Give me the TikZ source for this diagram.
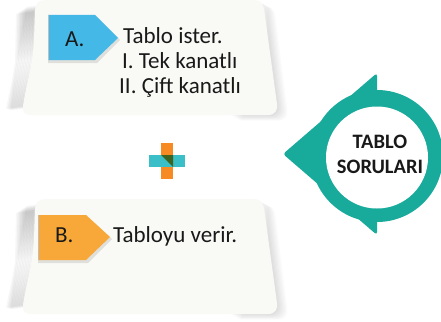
\documentclass[tikz,border=0pt]{standalone}
\usepackage{fontspec}
\setmainfont{Carlito}
\definecolor{cardfill}{HTML}{F9F9F5}
\definecolor{lblblue}{HTML}{44B9E7}
\definecolor{lblorange}{HTML}{F8A838}
\definecolor{ringteal}{HTML}{18AA9B}
\definecolor{plusteal}{HTML}{3ABEC8}
\definecolor{plusorange}{HTML}{F78A22}
\definecolor{plusgreen}{HTML}{3C6420}
\tikzset{
  cardtext/.style={inner sep=0pt, anchor=base west, font=\fontsize{23}{25}\selectfont, text=black!90},
  lbltext/.style={inner sep=0pt, anchor=base west, font=\fontsize{23}{25}\selectfont, text=black!90},
  ringtext/.style={inner sep=0pt, anchor=base, font=\bfseries\fontsize{20.5}{25}\selectfont, text=black!90},
  card/.pic={
    \foreach \k in {1,...,12}{
      \fill[black, opacity=0.03, shift={(-\k*1.5,\k*0.2)}]
        (46,4) -- (34,12) -- (33,60) .. controls (30,80) and (26,95) .. (24,106) -- (30,108) -- (35,60) -- cycle;
    }
    \foreach \k in {1,...,8}{
      \fill[black, opacity=0.016, shift={(\k*1.3,\k*0.7)}]
        (258,2) .. controls (262,2) and (264,5) .. (265,10) -- (277,104) .. controls (278,110) and (275,115) .. (268,115) -- (230,115) -- (258,60) -- cycle;
    }
    \fill[cardfill]
      (46,0) -- (254,0) .. controls (260,0) and (263,4) .. (264,9)
      -- (277,104) .. controls (278,110) and (275,115) .. (268,115)
      -- (32,115) .. controls (25,115) and (22,112) .. (23,106)
      .. controls (26,85) and (33,65) .. (34,40)
      -- (35,10) .. controls (35,4) and (39,0) .. (46,0) -- cycle;
  }
}
\begin{document}
\begin{tikzpicture}[x=1pt,y=-1pt]
\useasboundingbox (0,0) rectangle (441,321);
\fill[white] (0,0) rectangle (441,321);

% cards
\pic at (0,0) {card};
\pic at (0,199) {card};

% label A
\fill[black, opacity=0.10] (48,17) -- (97,17) -- (120,40) -- (97,63) -- (48,63) -- cycle;
\fill[lblblue] (48,15) -- (95,15) -- (118,38) -- (95,60) -- (48,60) -- cycle;
\draw[black!25, line width=0.6pt] (48,15) -- (48,60);
\node[lbltext] (la) at (65,46.5) {A.};
\node[cardtext] (a1) at (123,43.5) {Tablo ister.};
\node[cardtext] (a2) at (122,68.5) {I. Tek kanatlı};
\node[cardtext] (a3) at (119,93) {II. Çift kanatlı};

% label B
\fill[black, opacity=0.10] (38,217) -- (88,217) -- (112,239) -- (88,263) -- (38,263) -- cycle;
\fill[lblorange] (38,215) -- (86,215) -- (110,237) -- (86,260) -- (38,260) -- cycle;
\draw[black!25, line width=0.6pt] (38,215) -- (38,260);
\node[lbltext] (lb) at (55,242) {B.};
\node[cardtext] (b1) at (113,242) {Tabloyu verir.};

% plus sign
\fill[plusorange] (161,143) rectangle (173,179);
\fill[plusteal] (149,155) rectangle (185,167);
\fill[plusgreen] (161,155) -- (173,155) -- (173,167) -- cycle;

% ring arrow
\fill[ringteal, rounded corners=3] (283,154) -- (377,73) -- (377,235) -- cycle;
\fill[ringteal] (377,156) circle[radius=66];
\fill[white] (377,157.5) circle[radius=51];
\node[ringtext] (r1) at (380,148) {TABLO};
\node[ringtext] (r2) at (380,173) {SORULARI};
\end{tikzpicture}
\end{document}
